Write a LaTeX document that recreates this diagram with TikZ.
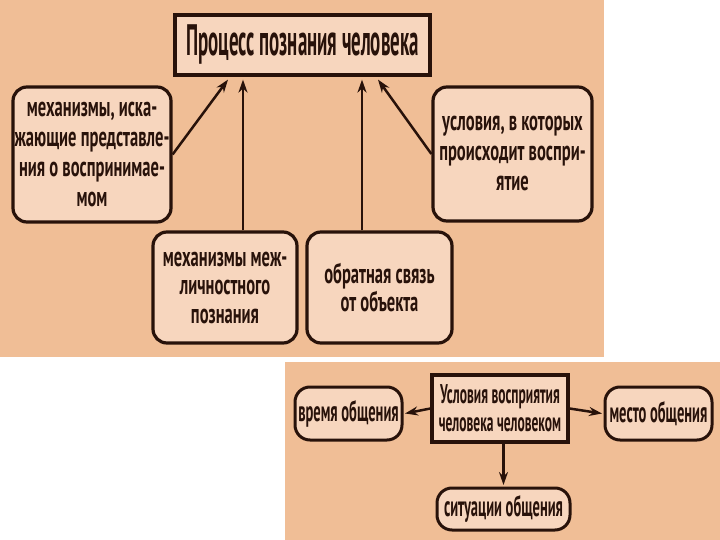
\documentclass[tikz,border=0pt]{standalone}
\usepackage{fontspec}
\setmainfont{PT Sans}
\newfontfamily\cfa[FakeStretch=0.59]{PT Sans}
\newfontfamily\cft[FakeStretch=0.43]{PT Sans}
\newfontfamily\cfb[FakeStretch=0.5]{PT Sans}
\usetikzlibrary{arrows.meta,positioning}
\definecolor{bgtan}{RGB}{240,190,150}
\definecolor{boxfill}{RGB}{247,214,190}
\definecolor{ink}{RGB}{40,18,10}
\tikzset{
  sq/.style={draw=ink,line width=3.2pt,fill=boxfill,inner sep=0pt,align=center,text=ink},
  rd/.style={draw=ink,line width=3.2pt,fill=boxfill,rounded corners=14pt,inner sep=0pt,align=center,text=ink,font=\cfa\bfseries\fontsize{28}{30}\selectfont},
  rdm/.style={rd,font=\cfa\bfseries\fontsize{28}{28.5}\selectfont},
  pill/.style={draw=ink,line width=3pt,fill=boxfill,rounded corners=15pt,inner sep=0pt,align=center,text=ink,font=\cfb\bfseries\fontsize{29}{29}\selectfont},
  ttl/.style={font=\cft\bfseries\fontsize{44}{44}\selectfont},
  btxt/.style={font=\cfb\bfseries\fontsize{27}{28}\selectfont},
  arr/.style={draw=ink,line width=2.5pt,-{Stealth[length=13pt,width=9pt]}},
}
\begin{document}
\begin{tikzpicture}[x=1pt,y=-1pt]
\useasboundingbox (0,0) rectangle (720,540);
\fill[white] (0,0) rectangle (720,540);
\fill[bgtan] (0,0) rectangle (604,357);
\fill[bgtan] (285,362) rectangle (720,540);
% top panel
\node[sq,ttl,minimum width=255pt,minimum height=60pt] (title) at (302.5,45) {Процесс познания человека};
\node[rd,minimum width=158pt,minimum height=135pt] (lbox) at (92,154.5) {механизмы, иска-\\жающие представле-\\ния о воспринимае-\\мом};
\node[rd,minimum width=159pt,minimum height=134pt] (rbox) at (512.5,154) {условия, в которых\\происходит воспри-\\ятие};
\node[rdm,minimum width=144pt,minimum height=111pt] (mlbox) at (225,287.5) {механизмы меж-\\личностного\\познания};
\node[rdm,minimum width=145pt,minimum height=111pt] (mrbox) at (379.5,287.5) {обратная связь\\от объекта};
\draw[arr] (lbox.east) -- ([xshift=-74.5pt,yshift=-3pt]title.south);
\draw[arr] (mlbox.north -| 243,0) -- ([yshift=-3pt]title.south -| 243,0);
\draw[arr] (mrbox.north -| 362,0) -- ([yshift=-3pt]title.south -| 362,0);
\draw[arr] (rbox.west) -- ([xshift=75.5pt,yshift=-3pt]title.south);
% bottom panel
\node[sq,btxt,minimum width=136pt,minimum height=67pt] (cond) at (500,408.5) {Условия восприятия\\человека человеком};
\node[pill,minimum width=107pt,minimum height=53pt] (time) at (348.5,413.5) {время общения};
\node[pill,minimum width=107pt,minimum height=53pt] (place) at (658.5,413.5) {место общения};
\node[pill,minimum width=133pt,minimum height=42pt] (sit) at (503.5,509) {ситуации общения};
\draw[arr] (cond.west) -- ([xshift=1.5pt]time.east);
\draw[arr] (cond.east) -- ([xshift=-1.5pt]place.west);
\draw[arr] (cond.south -| sit.north) -- ([yshift=1.5pt]sit.north);
\end{tikzpicture}
\end{document}
